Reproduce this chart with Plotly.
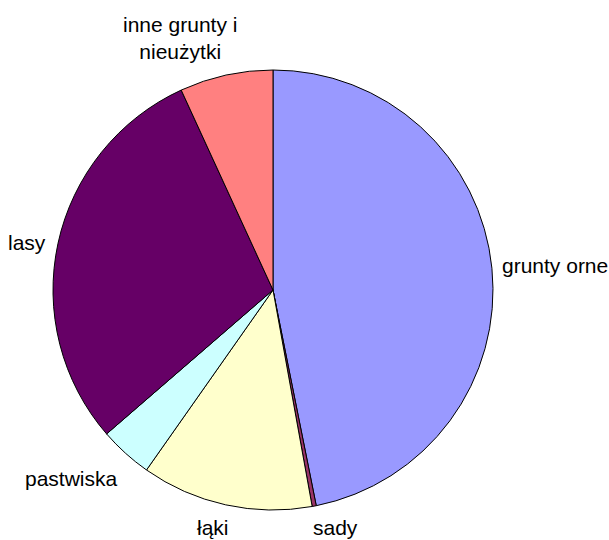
import plotly.graph_objects as go

categories = ["grunty orne", "sady", "łąki", "pastwiska", "lasy", "inne grunty i<br>nieużytki"]
values = [46.85, 0.3, 12.6, 3.9, 29.5, 6.85]
colors = ["#9999FF", "#993366", "#FFFFCC", "#CCFFFF", "#660066", "#FF8080"]

W, H = 609, 540
cx, cy, r = 273, 290, 220

fig = go.Figure(go.Pie(
    labels=categories, values=values, sort=False, direction="clockwise", rotation=0,
    marker=dict(colors=colors, line=dict(color="black", width=1)),
    textinfo="none", hoverinfo="label+percent",
    domain=dict(x=[(cx - r) / W, (cx + r) / W], y=[(H - cy - r) / H, (H - cy + r) / H]),
    showlegend=False,
))

# label placements (pixel coords, anchor)
label_pos = [(500, 265, "left"), (335, 527, "center"), (213, 527, "center"),
             (71, 478, "center"), (48, 242, "right"), (180, 38, "center")]
for text, (px, py, anc) in zip(categories, label_pos):
    fig.add_annotation(x=px / W, y=1 - py / H, xref="paper", yref="paper",
                       text=text, showarrow=False, xanchor=anc, yanchor="middle",
                       font=dict(family="Liberation Sans, Arial", size=21, color="black"))

fig.update_layout(width=W, height=H, margin=dict(l=0, r=0, t=0, b=0),
                  paper_bgcolor="white", plot_bgcolor="white")
fig.write_html("out.html")
